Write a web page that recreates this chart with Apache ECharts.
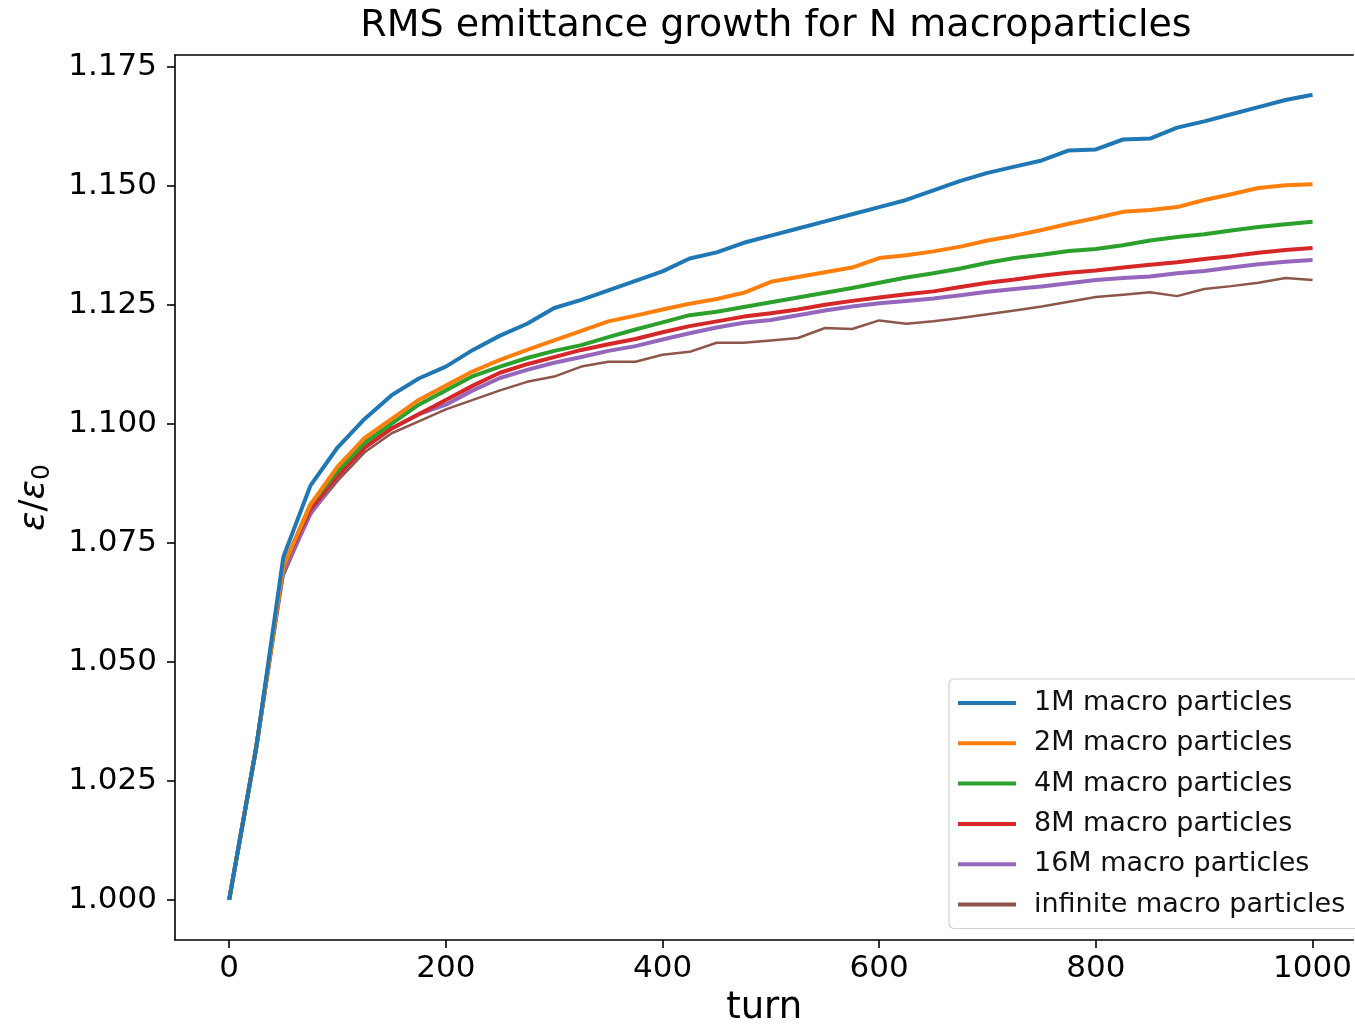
<!DOCTYPE html>
<html>
<head>
<meta charset="utf-8">
<script src="https://cdn.jsdelivr.net/npm/echarts@6/dist/echarts.min.js"></script>
<style>html,body{margin:0;padding:0;background:#fff;}#c{width:1355px;height:1032px;}</style>
</head>
<body>
<div id="c"></div>
<script>
var turns = [0,25,50,75,100,125,150,175,200,225,250,275,300,325,350,375,400,425,450,475,500,525,550,575,600,625,650,675,700,725,750,775,800,825,850,875,900,925,950,975,1000];
var seriesNames = ['1M macro particles','2M macro particles','4M macro particles','8M macro particles','16M macro particles','infinite macro particles'];
var s1M = [1.000,1.032,1.072,1.087,1.095,1.101,1.106,1.1095,1.112,1.1155,1.1185,1.121,1.1243,1.126,1.128,1.130,1.132,1.1347,1.136,1.138,1.1395,1.141,1.1425,1.144,1.1455,1.147,1.149,1.151,1.1527,1.154,1.1553,1.1574,1.1576,1.1597,1.1599,1.1622,1.1635,1.165,1.1665,1.168,1.1691];
var s2M = [1.000,1.032,1.070,1.083,1.091,1.097,1.101,1.105,1.108,1.111,1.1134,1.1155,1.1175,1.1195,1.1215,1.1227,1.124,1.1252,1.1262,1.1275,1.1298,1.1308,1.1318,1.1328,1.1348,1.1354,1.1362,1.1372,1.1385,1.1395,1.1407,1.142,1.1432,1.1445,1.1449,1.1455,1.147,1.1482,1.1495,1.1501,1.1503];
var s4M = [1.000,1.032,1.070,1.083,1.090,1.096,1.100,1.104,1.107,1.110,1.112,1.1138,1.1153,1.1165,1.1182,1.1198,1.1213,1.1228,1.1235,1.1245,1.1255,1.1265,1.1275,1.1285,1.1296,1.1307,1.1316,1.1326,1.1338,1.1348,1.1355,1.1363,1.1367,1.1375,1.1385,1.1392,1.1398,1.1406,1.1413,1.1419,1.1424];
var s8M = [1.000,1.032,1.070,1.082,1.089,1.095,1.099,1.102,1.105,1.108,1.1107,1.1125,1.114,1.1155,1.1167,1.1178,1.1192,1.1205,1.1215,1.1225,1.1232,1.124,1.125,1.1258,1.1265,1.1272,1.1278,1.1287,1.1296,1.1303,1.1311,1.1317,1.1322,1.1328,1.1334,1.1339,1.1346,1.1352,1.1359,1.1365,1.1369];
var s16M = [1.000,1.032,1.069,1.081,1.089,1.095,1.099,1.102,1.104,1.107,1.1096,1.1113,1.1128,1.114,1.1153,1.1163,1.1177,1.119,1.1202,1.1212,1.1218,1.1228,1.1238,1.1246,1.1253,1.1258,1.1263,1.127,1.1277,1.1283,1.1288,1.1295,1.1302,1.1306,1.1309,1.1316,1.1321,1.1328,1.1335,1.1340,1.1344];
var sInf = [1.000,1.033,1.068,1.081,1.088,1.094,1.098,1.1005,1.103,1.105,1.107,1.1088,1.1099,1.112,1.113,1.113,1.1145,1.1151,1.117,1.117,1.1175,1.118,1.1201,1.1199,1.1217,1.121,1.1215,1.1222,1.123,1.1238,1.1246,1.1256,1.1266,1.1271,1.1276,1.1268,1.1283,1.1289,1.1296,1.1306,1.1302];
var xTicks = [0,200,400,600,800,1000];
var yTicks = [1.000,1.025,1.050,1.075,1.100,1.125,1.150,1.175];

var colors = ['#1f77b4','#ff7f0e','#2ca02c','#d62728','#9467bd','#8c564b'];
var widths = [4,4,4,4,4,2.5];
var allData = [s1M,s2M,s4M,s8M,s16M,sInf];
var FONT = 'DejaVu Sans';

function pairs(arr){ return arr.map(function(v,i){ return [turns[i], v]; }); }

var chart = echarts.init(document.getElementById('c'), null, {renderer:'canvas'});
var series = seriesNames.map(function(n,i){
  return {
    name:n, type:'line', data:pairs(allData[i]), symbol:'none', smooth:false,
    xAxisIndex:0, yAxisIndex:0,
    lineStyle:{color:colors[i], width:widths[i]}, itemStyle:{color:colors[i]},
    z: 10 - i, animation:false
  };
});

var X_MIN = -50, X_MAX = 1037.6, Y_MIN = 0.99155, Y_MAX = 1.17745;

chart.setOption({
  animation:false,
  backgroundColor:'#fff',
  title:{
    text:'RMS emittance growth for N macroparticles',
    left:771, top:2, textAlign:'center',
    textStyle:{fontFamily:FONT, fontSize:38, fontWeight:'normal', color:'#000'}
  },
  grid:{left:175, top:55, right:0, bottom:91, show:false},
  legend:{
    orient:'vertical', left:949, top:679,
    padding:[9,30,9,9], itemGap:10.3, itemWidth:58, itemHeight:4,
    icon:'rect',
    backgroundColor:'rgba(255,255,255,0.85)', borderColor:'#d0d0d0', borderWidth:1.2, borderRadius:5,
    textStyle:{fontFamily:FONT, fontSize:27, color:'#111', lineHeight:30, padding:[0,0,0,13]},
    data:seriesNames
  },
  xAxis:[{
    type:'value', min:X_MIN, max:X_MAX, position:'bottom',
    name:'turn', nameLocation:'middle', nameGap:50,
    nameTextStyle:{fontFamily:FONT, fontSize:37, color:'#000'},
    axisLine:{show:true, onZero:false, lineStyle:{color:'#000', width:1.6}},
    axisTick:{show:true, inside:false, length:8, customValues:xTicks, lineStyle:{color:'#000', width:1.6}},
    axisLabel:{customValues:xTicks, fontFamily:FONT, fontSize:31, color:'#000', margin:13,
      formatter:function(v){ return String(v); }},
    splitLine:{show:false}
  },{
    type:'value', min:X_MIN, max:X_MAX, position:'top',
    axisLine:{show:true, onZero:false, lineStyle:{color:'#000', width:1.6}},
    axisTick:{show:false}, axisLabel:{show:false}, splitLine:{show:false}
  }],
  yAxis:{
    type:'value', min:Y_MIN, max:Y_MAX,
    name:'{it|ε}/{it|ε}{sub|0}', nameLocation:'middle', nameRotate:90, nameGap:120,
    nameTextStyle:{fontFamily:FONT, fontSize:36, color:'#000',
      rich:{
        it:{fontFamily:FONT, fontSize:36, fontStyle:'italic'},
        sub:{fontFamily:FONT, fontSize:25, verticalAlign:'bottom', padding:[16,0,0,0]}
      }},
    axisLine:{show:true, onZero:false, lineStyle:{color:'#000', width:1.6}},
    axisTick:{show:true, inside:false, length:8, customValues:yTicks, lineStyle:{color:'#000', width:1.6}},
    axisLabel:{customValues:yTicks, fontFamily:FONT, fontSize:31, color:'#000', margin:18,
      formatter:function(v){ return v.toFixed(3); }},
    splitLine:{show:false}
  },
  series:series
});
</script>
</body>
</html>
